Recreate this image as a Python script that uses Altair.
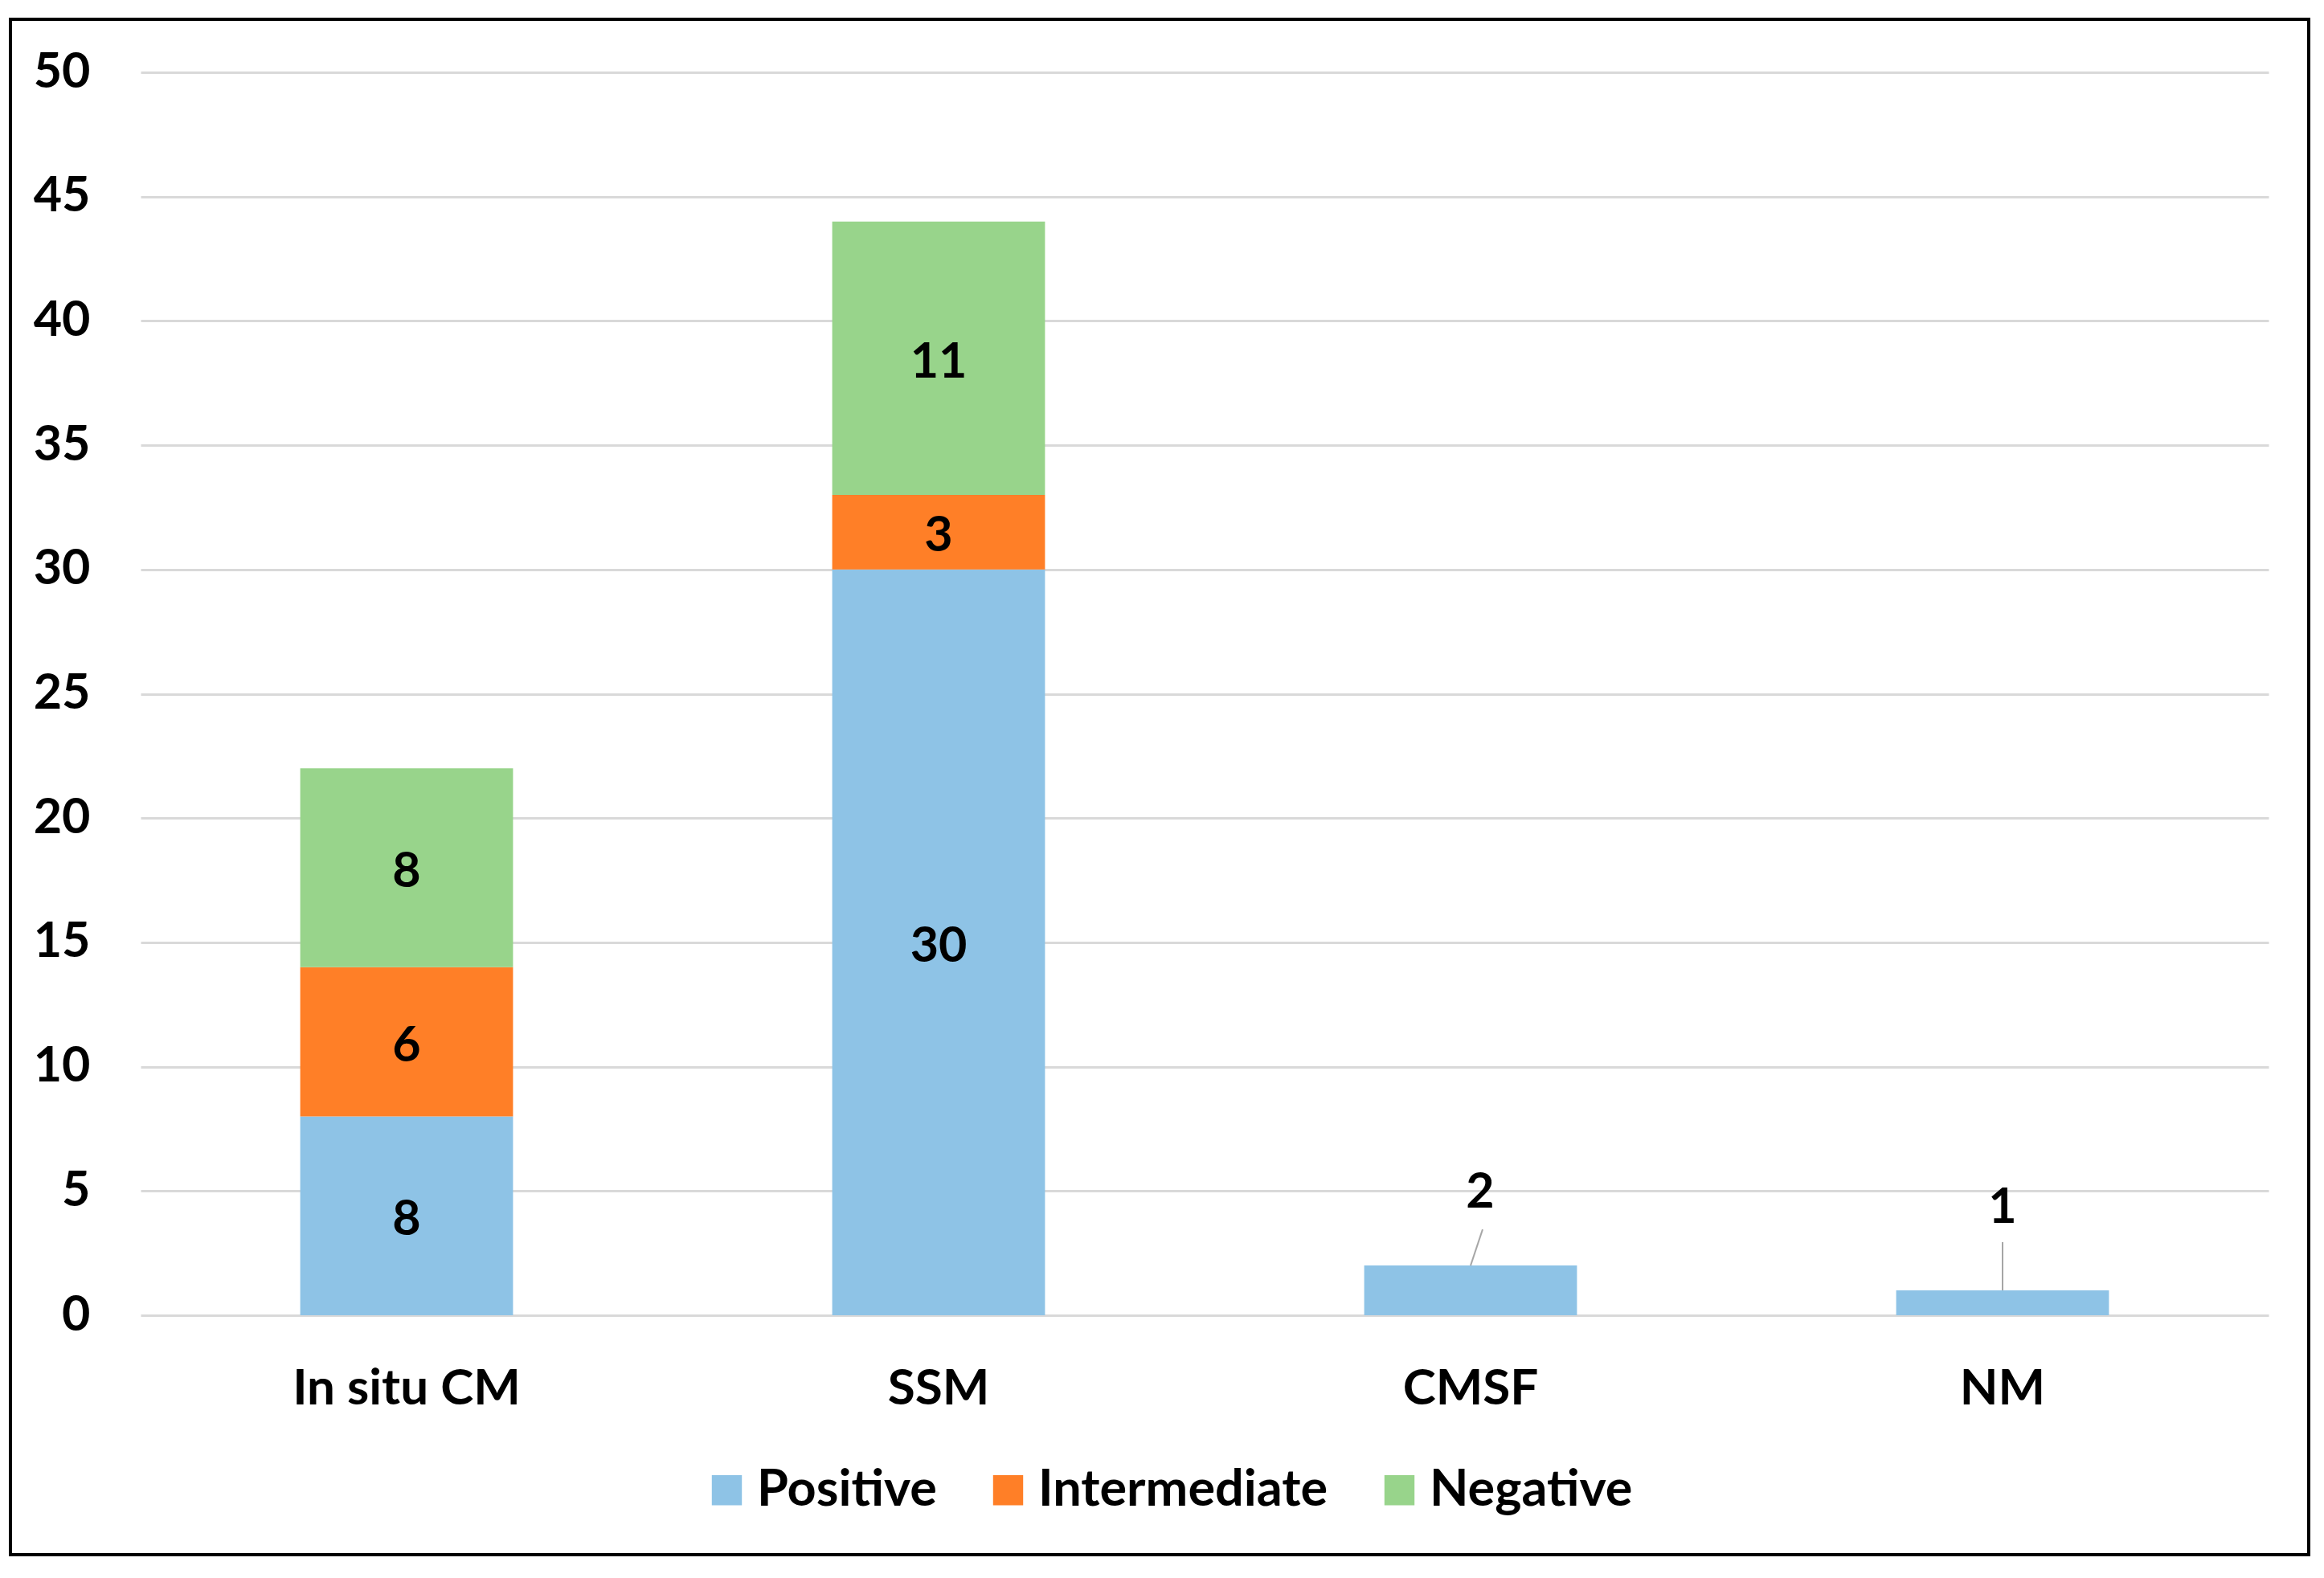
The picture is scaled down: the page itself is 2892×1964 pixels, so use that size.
import altair as alt
import pandas as pd

# ---- data ----
categories = ["In situ CM", "SSM", "CMSF", "NM"]
series = ["Positive", "Intermediate", "Negative"]
positive = [8, 30, 2, 1]
intermediate = [6, 3, 0, 0]
negative = [8, 11, 0, 0]
y_ticks = [0, 5, 10, 15, 20, 25, 30, 35, 40, 45, 50]
colors = ["#8EC3E6", "#FF7F27", "#98D48B"]
callout_categories = ["CMSF", "NM"]

rows = []
for i, c in enumerate(categories):
    for j, (s, vals) in enumerate(zip(series, [positive, intermediate, negative])):
        rows.append({"category": c, "series": s, "order": j, "value": vals[i]})
df = pd.DataFrame(rows)

FONT = "Lato"
FS = 61
W, H = 2648, 1547

x_enc = alt.X(
    "category:N",
    sort=categories,
    scale=alt.Scale(paddingInner=0.6, paddingOuter=0.3),
    axis=alt.Axis(
        title=None, labelAngle=0, ticks=False, domain=False, grid=False,
        labelPadding=61, labelFont=FONT, labelFontSize=62, labelLimit=0,
        labelFontWeight="bold", labelColor="black",
    ),
)

base = (
    alt.Chart(df)
    .transform_filter(alt.datum.value > 0)
    .transform_stack(
        stack="value", groupby=["category"],
        sort=[alt.SortField("order")], as_=["y0", "y1"],
    )
    .transform_calculate(mid="(datum.y0 + datum.y1) / 2")
)

bars = base.mark_bar().encode(
    x=x_enc,
    y=alt.Y(
        "y0:Q",
        scale=alt.Scale(domain=[0, 50], nice=False),
        axis=alt.Axis(
            values=y_ticks, title=None, ticks=False, domain=False,
            labelPadding=63, labelFont=FONT, labelFontSize=FS,
            labelFontWeight="bold", labelColor="black",
            gridColor="#D9D9D9", gridWidth=3,
        ),
    ),
    y2="y1:Q",
    color=alt.Color(
        "series:N",
        scale=alt.Scale(domain=series, range=colors),
        legend=alt.Legend(
            title=None, orient="none", legendX=698, legendY=1733,
            direction="horizontal", symbolType="square", symbolSize=1400,
            symbolStrokeWidth=0, symbolOpacity=1, labelLimit=0,
            labelFont=FONT, labelFontSize=63, labelFontWeight="bold",
            labelColor="black", labelOffset=6, columnPadding=57,
        ),
    ),
)

inner_labels = (
    base.transform_filter(
        ~alt.FieldOneOfPredicate(field="category", oneOf=callout_categories)
    )
    .mark_text(font=FONT, fontSize=FS, fontWeight="bold", color="black", dy=6)
    .encode(x=alt.X("category:N", sort=categories), y="mid:Q", text="value:Q")
)

# callout styling (label nudge and leader line length/slant), per category
callout_style = {"CMSF": (12, -90, -45, 15), "NM": (0, -102, -60, 0)}
callouts = []
for c in callout_categories:
    dx, dy, lead, slant = callout_style[c]
    sub = base.transform_filter(
        (alt.datum.category == c) & (alt.datum.series == "Positive")
    )
    callouts.append(
        sub.mark_text(font=FONT, fontSize=FS, fontWeight="bold", color="black",
                      dx=dx, dy=dy)
        .encode(x=alt.X("category:N", sort=categories), y="y1:Q", text="value:Q")
    )
    callouts.append(
        sub.mark_rule(color="#A6A6A6", strokeWidth=2, y2Offset=lead, x2Offset=slant)
        .encode(
            x=alt.X("category:N", sort=categories),
            x2=alt.X2("category:N"),
            y="y1:Q",
            y2="y1:Q",
        )
    )

border = (
    alt.Chart(pd.DataFrame({"b": [0]}))
    .mark_rect(fillOpacity=0, stroke="black", strokeWidth=4)
    .encode(x=alt.value(-162), x2=alt.value(2698), y=alt.value(-66), y2=alt.value(1845))
)

chart = (
    alt.layer(bars, inner_labels, *callouts, border)
    .properties(
        width=W, height=H,
        padding={"left": 3, "top": 14, "right": 5, "bottom": 5},
        background="white",
    )
    .configure_view(stroke=None)
)

chart.save("out.html", embed_options={"renderer": "svg", "actions": False})
